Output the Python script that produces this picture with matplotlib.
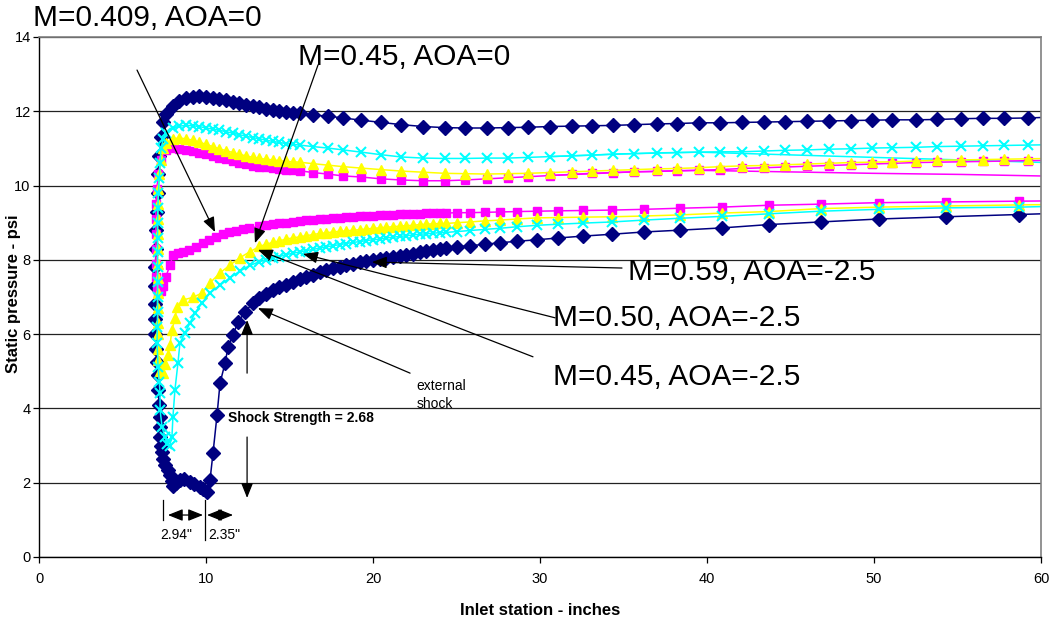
import matplotlib
matplotlib.use("Agg")
import matplotlib.pyplot as plt

plt.rcParams['font.family'] = ['Liberation Sans', 'DejaVu Sans']

# x stations shared by the outer (upper) branches, inches
UP_X = [7.6, 8.0, 8.4, 8.8, 9.2, 9.6, 10.0, 10.4, 10.8, 11.2, 11.6, 12.0, 12.4, 12.8,
        13.2, 13.6, 14.0, 14.4, 14.8, 15.2,
        15.6, 16.4, 17.3, 18.2, 19.3, 20.5, 21.7, 23.0, 24.3, 25.5, 26.8, 28.1, 29.3,
        30.6, 31.9, 33.1, 34.4, 35.6, 37.0, 38.2, 39.5, 40.8, 42.1, 43.4, 44.7, 46.0,
        47.3, 48.6, 49.9, 51.1, 52.5, 53.8, 55.2, 56.5, 57.8, 59.2, 60.5]

# x stations shared by the inner (lower) branches, inches
LO_X = [13.2, 13.6, 14.0, 14.4, 14.8, 15.2, 15.6, 16.0, 16.4, 16.8, 17.2, 17.6, 18.0,
        18.4, 18.8, 19.2, 19.6, 20.0, 20.4, 20.8, 21.2, 21.6, 22.0, 22.4, 22.8, 23.2,
        23.6, 24.0,
        24.4, 25.0, 25.8, 26.7, 27.6, 28.6, 29.8, 31.1, 32.6, 34.3, 36.2, 38.4, 40.9,
        43.7, 46.8, 50.3, 54.3, 58.7, 63.5]

# static pressure, psi
NAVY_UP = [11.92, 12.15, 12.28, 12.35, 12.39, 12.4, 12.39, 12.37, 12.34, 12.3, 12.26,
           12.22, 12.18, 12.14, 12.11, 12.07, 12.04, 12.01, 11.98, 11.96,
           11.95, 11.9, 11.87, 11.82, 11.76, 11.7, 11.64, 11.59, 11.56, 11.55, 11.55,
           11.56, 11.57, 11.59, 11.6, 11.61, 11.62, 11.64, 11.66, 11.67, 11.69, 11.69,
           11.7, 11.71, 11.72, 11.73, 11.74, 11.75, 11.76, 11.77, 11.77, 11.78, 11.8,
           11.81, 11.81, 11.82, 11.84]
NAVY_LIP_X = [7.45, 7.3, 7.2, 7.15, 7.1, 7.05, 7.0, 7.0, 6.97, 6.95, 6.95, 6.95, 6.97,
              7.02, 7.07, 7.1, 7.13, 7.2, 7.25, 7.25, 7.27, 7.32, 7.37, 7.45, 7.54, 7.7,
              7.84, 7.95, 8.02, 8.2, 8.44, 8.7, 9.04, 9.3, 9.64, 9.85, 10.06, 10.24,
              10.42, 10.66, 10.84, 11.14, 11.32, 11.62, 11.92, 12.34, 12.81]
NAVY_LIP_Y = [11.7, 11.3, 10.8, 10.3, 9.8, 9.3, 8.8, 8.3, 7.8, 7.3, 6.8, 6.4, 6.0, 5.6,
              5.25, 4.9, 4.5, 4.1, 3.77, 3.5, 3.23, 3.0, 2.83, 2.65, 2.48, 2.33, 2.21,
              2.05, 1.9, 1.98, 2.07, 2.1, 2.02, 1.97, 1.88, 1.82, 1.75, 2.07, 2.8, 3.82,
              4.68, 5.22, 5.65, 5.98, 6.33, 6.6, 6.84]
NAVY_LO = [6.98, 7.09, 7.18, 7.26, 7.33, 7.41, 7.48, 7.54, 7.59, 7.66, 7.72, 7.77, 7.82,
           7.86, 7.9, 7.93, 7.96, 7.99, 8.01, 8.04, 8.07, 8.1, 8.13, 8.17, 8.2, 8.24,
           8.27, 8.3,
           8.32, 8.35, 8.38, 8.42, 8.46, 8.5, 8.54, 8.59, 8.64, 8.69, 8.75, 8.8, 8.86,
           8.95, 9.02, 9.1, 9.16, 9.22, 9.29]

CYAN_UP = [11.42, 11.55, 11.6, 11.62, 11.61, 11.59, 11.55, 11.52, 11.49, 11.45, 11.41,
           11.37, 11.33, 11.29, 11.26, 11.22, 11.19, 11.16, 11.13, 11.11,
           11.09, 11.05, 11.01, 10.96, 10.9, 10.83, 10.77, 10.74, 10.73, 10.73, 10.74,
           10.74, 10.76, 10.78, 10.8, 10.82, 10.85, 10.86, 10.88, 10.89, 10.9, 10.91,
           10.91, 10.93, 10.95, 10.96, 10.98, 10.99, 11.01, 11.02, 11.03, 11.05, 11.06,
           11.07, 11.08, 11.09, 11.1]
CYAN_LIP_X = [7.45, 7.3, 7.25, 7.2, 7.15, 7.12, 7.1, 7.1, 7.1, 7.1, 7.1, 7.1, 7.1, 7.08,
              7.07, 7.13, 7.2, 7.25, 7.25, 7.37, 7.54, 7.68, 7.82, 7.96, 8.02, 8.14,
              8.32, 8.44, 8.74, 9.04, 9.34, 9.76, 10.24, 10.84, 11.44, 12.04, 12.63]
CYAN_LIP_Y = [11.25, 11.0, 10.6, 10.2, 9.8, 9.4, 9.0, 8.6, 8.2, 7.8, 7.4, 7.0, 6.6, 6.2,
              5.76, 5.12, 4.7, 4.42, 3.96, 3.5, 3.23, 3.05, 3.0, 3.23, 3.77, 4.5, 5.22,
              5.76, 6.03, 6.3, 6.57, 6.84, 7.11, 7.32, 7.52, 7.7, 7.85]
CYAN_LO = [7.95, 8.0, 8.05, 8.09, 8.14, 8.18, 8.21, 8.25, 8.28, 8.32, 8.35, 8.38, 8.41,
           8.44, 8.47, 8.49, 8.52, 8.54, 8.56, 8.59, 8.61, 8.63, 8.65, 8.67, 8.69, 8.7,
           8.72, 8.73,
           8.74, 8.76, 8.79, 8.82, 8.85, 8.89, 8.93, 8.96, 8.99, 9.02, 9.07, 9.12, 9.17,
           9.24, 9.31, 9.36, 9.4, 9.42, 9.47]

YELLOW_UP = [11.15, 11.26, 11.28, 11.26, 11.22, 11.17, 11.11, 11.05, 10.99, 10.94,
             10.89, 10.84, 10.8, 10.76, 10.73, 10.71, 10.69, 10.67, 10.65, 10.64,
             10.63, 10.59, 10.55, 10.51, 10.47, 10.43, 10.39, 10.36, 10.33, 10.32,
             10.31, 10.32, 10.33, 10.35, 10.37, 10.39, 10.41, 10.43, 10.45, 10.46,
             10.48, 10.51, 10.53, 10.54, 10.56, 10.58, 10.6, 10.62, 10.63, 10.64,
             10.66, 10.68, 10.69, 10.7, 10.71, 10.72, 10.73]
YELLOW_LIP_X = [7.45, 7.3, 7.2, 7.15, 7.12, 7.1, 7.1, 7.1, 7.1, 7.1, 7.1, 7.1, 7.12,
                7.13, 7.13, 7.15, 7.25, 7.4, 7.54, 7.7, 7.84, 7.96, 8.14, 8.26, 8.62,
                9.22, 9.76, 10.24, 10.84, 11.44, 12.04, 12.63]
YELLOW_LIP_Y = [11.0, 10.7, 10.3, 9.9, 9.5, 9.1, 8.7, 8.3, 7.9, 7.5, 7.1, 6.7, 6.3, 6.0,
                5.6, 5.3, 5.0, 4.95, 5.2, 5.45, 5.7, 6.1, 6.43, 6.73, 6.92, 6.99, 7.11,
                7.38, 7.65, 7.86, 8.06, 8.22]
YELLOW_LO = [8.36, 8.42, 8.47, 8.51, 8.56, 8.59, 8.62, 8.65, 8.68, 8.71, 8.73, 8.75,
             8.77, 8.78, 8.8, 8.81, 8.83, 8.85, 8.86, 8.88, 8.89, 8.91, 8.92, 8.93,
             8.95, 8.96, 8.97, 8.98,
             8.98, 9.0, 9.02, 9.05, 9.07, 9.1, 9.13, 9.14, 9.15, 9.16, 9.18, 9.21, 9.26,
             9.3, 9.38, 9.42, 9.45, 9.48, 9.5]

MAGENTA_UP = [10.95, 11.0, 10.98, 10.95, 10.92, 10.88, 10.84, 10.8, 10.75, 10.71,
              10.66, 10.62, 10.58, 10.54, 10.51, 10.49, 10.47, 10.45, 10.43, 10.42,
              10.4, 10.35, 10.31, 10.26, 10.23, 10.18, 10.15, 10.13, 10.13, 10.15,
              10.18, 10.21, 10.24, 10.27, 10.3, 10.33, 10.35, 10.37, 10.38, 10.4,
              10.41, 10.43, 10.46, 10.48, 10.5, 10.52, 10.54, 10.56, 10.58, 10.6,
              10.62, 10.63, 10.64, 10.65, 10.66, 10.67, 10.68]
MAGENTA_LIP_X = [7.3, 7.15, 7.05, 7.0, 7.0, 7.0, 7.0, 7.0, 7.0, 7.05, 7.15, 7.3, 7.43,
                 7.6, 7.84, 8.02, 8.3, 8.62, 9.0, 9.4, 9.82, 10.2, 10.6, 11.0, 11.4,
                 11.8, 12.2, 12.6]
MAGENTA_LIP_Y = [10.7, 10.3, 9.9, 9.5, 9.1, 8.7, 8.3, 7.9, 7.55, 7.25, 7.1, 7.15, 7.3,
                 7.55, 7.85, 8.12, 8.18, 8.22, 8.27, 8.35, 8.45, 8.54, 8.62, 8.69, 8.74,
                 8.78, 8.82, 8.86]
MAGENTA_LO = [8.9, 8.93, 8.96, 8.98, 9.0, 9.02, 9.04, 9.06, 9.08, 9.1, 9.11, 9.13, 9.14,
              9.15, 9.16, 9.17, 9.18, 9.19, 9.2, 9.21, 9.22, 9.23, 9.23, 9.24, 9.24,
              9.25, 9.25, 9.26,
              9.26, 9.27, 9.27, 9.28, 9.29, 9.3, 9.31, 9.32, 9.33, 9.34, 9.36, 9.39,
              9.42, 9.47, 9.5, 9.54, 9.56, 9.58, 9.6]

# two plain lines with no markers
EXTRA_X = [30.6, 35.6, 39.5, 44.7, 49.9, 55.2, 61.0]
CYAN_EXTRA = [10.78, 10.86, 10.9, 10.83, 10.76, 10.69, 10.61]
MAGENTA_EXTRA = [10.27, 10.37, 10.41, 10.37, 10.33, 10.3, 10.25]


def whole_curve(up, lip_x, lip_y, lo):
    # outer surface walked back to the lip, then the inner surface
    xs = UP_X[::-1] + lip_x + LO_X
    ys = up[::-1] + lip_y + lo
    return xs, ys


fig = plt.figure(figsize=(10.52, 6.24), dpi=100)
ax = fig.add_axes([39 / 1052, 67 / 624, 1002 / 1052, 520 / 624])

ax.plot(EXTRA_X, CYAN_EXTRA, color='#00FFFF', lw=1.1)
ax.plot(EXTRA_X, MAGENTA_EXTRA, color='#FF00FF', lw=1.1)

x, y = whole_curve(NAVY_UP, NAVY_LIP_X, NAVY_LIP_Y, NAVY_LO)
ax.plot(x, y, color='#000080', lw=1.1, marker='D', ms=6.8, mfc='#000080', mec='#000080')
x, y = whole_curve(MAGENTA_UP, MAGENTA_LIP_X, MAGENTA_LIP_Y, MAGENTA_LO)
ax.plot(x, y, color='#FF00FF', lw=1.1, marker='s', ms=6, mfc='#FF00FF', mec='#FF00FF')
x, y = whole_curve(YELLOW_UP, YELLOW_LIP_X, YELLOW_LIP_Y, YELLOW_LO)
ax.plot(x, y, color='#FFFF00', lw=1.1, marker='^', ms=7.5, mfc='#FFFF00', mec='#FFFF00')
x, y = whole_curve(CYAN_UP, CYAN_LIP_X, CYAN_LIP_Y, CYAN_LO)
ax.plot(x, y, color='#00FFFF', lw=1.1, marker='x', ms=7, mew=1.5, mec='#00FFFF')

ax.set_xlim(0, 60)
ax.set_ylim(0, 14)
ax.set_xticks(range(0, 61, 10))
ax.set_yticks(range(0, 15, 2))
ax.yaxis.grid(True, color='#222222', lw=0.9)
ax.set_axisbelow(True)
for side in ['top', 'right']:
    ax.spines[side].set_color('#808080')
    ax.spines[side].set_linewidth(1.2)
for side in ['left', 'bottom']:
    ax.spines[side].set_color('black')
    ax.spines[side].set_linewidth(1.0)
ax.tick_params(direction='out', length=4, width=0.9, labelsize=10.5)
ax.tick_params(axis='x', pad=7)
ax.tick_params(axis='y', pad=2)

ax.set_xlabel('Inlet station - inches', fontsize=12, fontweight='bold', labelpad=12)
fig.text(14 / 1052, 0.53, 'Static pressure - psi', rotation=90, fontsize=12,
         fontweight='bold', ha='center', va='center')

arrow = dict(arrowstyle='-|>,head_length=0.75,head_width=0.3', color='black',
             lw=0.9, mutation_scale=12, shrinkA=0, shrinkB=0)
pointers = [
    ((5.87, 13.11), (10.54, 8.75)),
    ((16.71, 13.25), (12.93, 8.45)),
    ((34.91, 7.78), (19.94, 7.94)),
    ((30.9, 6.44), (15.81, 8.16)),
    ((29.58, 5.39), (13.11, 8.27)),
    ((22.22, 4.95), (13.11, 6.7)),
    ((12.46, 4.95), (12.46, 6.38)),
    ((12.46, 3.23), (12.46, 1.59)),
]
for tail, head in pointers:
    ax.annotate('', xy=head, xytext=tail, arrowprops=arrow)

both = dict(arrowstyle='<|-|>,head_length=0.75,head_width=0.3', color='black',
            lw=0.9, mutation_scale=12, shrinkA=0, shrinkB=0)
ax.annotate('', xy=(9.82, 1.13), xytext=(7.72, 1.13), arrowprops=both)
ax.annotate('', xy=(11.62, 1.13), xytext=(10.06, 1.13), arrowprops=both)
ax.plot([7.43, 7.43], [1.53, 1.0], color='black', lw=0.9)
ax.plot([9.94, 9.94], [1.53, 0.46], color='black', lw=0.9)

big = 21.5
ax.text(-0.36, 14.51, 'M=0.409, AOA=0', fontsize=big, va='center', clip_on=False)
ax.text(15.51, 13.46, 'M=0.45, AOA=0', fontsize=big, va='center')
ax.text(35.27, 7.67, 'M=0.59, AOA=-2.5', fontsize=big, va='center')
ax.text(30.78, 6.44, 'M=0.50, AOA=-2.5', fontsize=big, va='center')
ax.text(30.78, 4.85, 'M=0.45, AOA=-2.5', fontsize=big, va='center')
ax.text(22.6, 4.37, 'external\nshock', fontsize=10, va='center', linespacing=1.35)
ax.text(11.32, 3.74, 'Shock Strength = 2.68', fontsize=10, fontweight='bold', va='center')
ax.text(7.25, 0.59, '2.94"', fontsize=10, va='center')
ax.text(10.12, 0.59, '2.35"', fontsize=10, va='center')

fig.savefig('out.png', dpi=100)
